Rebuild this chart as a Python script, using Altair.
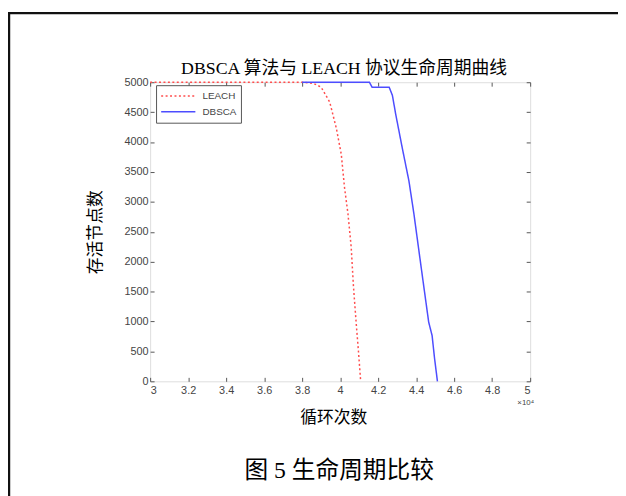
import altair as alt
import pandas as pd

# ---- data (x in units of 1e4 rounds) ----
leach_x = [3.00, 3.80, 3.86, 3.90, 3.945, 3.98, 4.006, 4.023, 4.041, 4.058, 4.070, 4.084, 4.098, 4.108]
leach_y = [5000, 5000, 4980, 4917, 4670, 4230, 3795, 3240, 2805, 2250, 1590, 990, 434, 0]
dbsca_x = [3.80, 4.154, 4.168, 4.258, 4.275, 4.293, 4.327, 4.362, 4.388, 4.414, 4.440, 4.466, 4.484, 4.497, 4.512]
dbsca_y = [5000, 5000, 4917, 4917, 4780, 4455, 3900, 3350, 2805, 2195, 1590, 990, 764, 380, 0]
series = ["LEACH", "DBSCA"]
x_ticks = [3.0, 3.2, 3.4, 3.6, 3.8, 4.0, 4.2, 4.4, 4.6, 4.8, 5.0]
y_ticks = [0, 500, 1000, 1500, 2000, 2500, 3000, 3500, 4000, 4500, 5000]
title_text = "DBSCA 算法与 LEACH 协议生命周期曲线"
x_title = "循环次数"
y_title = "存活节点数"
caption = "图 5  生命周期比较"
exp_label = "×10⁴"

rows = []
for i, (x, y) in enumerate(zip(leach_x, leach_y)):
    rows.append({"s": "LEACH", "x": x, "y": y, "o": i})
for i, (x, y) in enumerate(zip(dbsca_x, dbsca_y)):
    rows.append({"s": "DBSCA", "x": x, "y": y, "o": i})
df = pd.DataFrame(rows)

W, H = 385, 303
SANS = "Liberation Sans, Arial, sans-serif"
MIX = "Liberation Serif, Noto Sans CJK SC, serif"
CJK = "Noto Sans CJK SC, sans-serif"

xscale = alt.Scale(domain=[3, 5], nice=False, zero=False)
yscale = alt.Scale(domain=[0, 5000], nice=False)

lines = alt.Chart(df).mark_line(strokeWidth=1.5, clip=False).encode(
    x=alt.X("x:Q", scale=xscale,
            axis=alt.Axis(values=x_ticks, format="~g", grid=False, domain=False,
                          offset=-4, tickSize=4, tickColor="#555", labelColor="#444",
                          labelFont=SANS, labelFontSize=11, labelPadding=3,
                          title=x_title, titleFont=CJK, titleFontSize=17, titleX=W / 2 - 7,
                          titleFontWeight="normal", titleColor="#000", titlePadding=15)),
    y=alt.Y("y:Q", scale=yscale,
            axis=alt.Axis(values=y_ticks, format="d", grid=False, domain=False,
                          offset=-4, tickSize=4, tickColor="#555", labelColor="#444",
                          labelFont=SANS, labelFontSize=11, labelPadding=2,
                          title=y_title, titleFont=CJK, titleFontSize=17,
                          titleFontWeight="normal", titleColor="#000", titlePadding=20)),
    color=alt.Color("s:N", scale=alt.Scale(domain=series, range=["#ff4d4d", "#4d4dff"]),
                    legend=alt.Legend(title=None, orient="none", legendX=6, legendY=3,
                                      strokeColor="#555", fillColor="white", padding=4,
                                      symbolType="stroke", symbolSize=1200,
                                      symbolStrokeWidth=1.5, labelFont=SANS,
                                      labelFontSize=10, labelColor="#444", rowPadding=2,
                                      clipHeight=14, labelOffset=6)),
    strokeDash=alt.StrokeDash("s:N", scale=alt.Scale(domain=series, range=[[2, 2.5], [1, 0]]),
                              legend=alt.Legend(title=None)),
    order="o:Q",
)

box_ticks = alt.Chart(df).mark_point(opacity=0).encode(
    x=alt.X("x:Q", scale=xscale,
            axis=alt.Axis(orient="top", values=x_ticks, labels=False, grid=False, domain=False,
                          offset=-4, tickSize=4, tickColor="#555", title=None)),
    y=alt.Y("y:Q", scale=yscale,
            axis=alt.Axis(orient="right", values=y_ticks, labels=False, grid=False, domain=False,
                          offset=-4, tickSize=4, tickColor="#555", title=None)),
)

title_mark = alt.Chart(pd.DataFrame({"t": [title_text]})).mark_text(
    align="center", baseline="alphabetic", font=MIX, fontSize=18, color="#000"
).encode(x=alt.value(W / 2 + 4), y=alt.value(-8), text="t:N")

exp_text = alt.Chart(pd.DataFrame({"t": [exp_label]})).mark_text(
    align="right", baseline="top", font=SANS, fontSize=8, color="#444"
).encode(x=alt.value(W + 4), y=alt.value(H + 18), text="t:N")

cap_text = alt.Chart(pd.DataFrame({"t": [caption]})).mark_text(
    align="center", baseline="middle", font=MIX, fontSize=24, color="#000"
).encode(x=alt.value(W / 2 - 1), y=alt.value(H + 91), text="t:N")

frame = alt.Chart(pd.DataFrame({"a": [0]})).mark_rect(
    fill=None, stroke="#111", strokeWidth=2.5, clip=False
).encode(x=alt.value(-143), x2=alt.value(700), y=alt.value(-70), y2=alt.value(700))

chart = alt.layer(frame, lines, box_ticks, title_mark, exp_text, cap_text).resolve_axis(
    x="independent", y="independent"
).properties(
    width=W, height=H,
    autosize=alt.AutoSizeParams(type="none"),
    padding={"left": 144, "top": 72, "right": 89, "bottom": 113},
).configure_view(stroke="#555", strokeWidth=1).configure(background="white")

chart.save("out.html", embed_options={"renderer": "svg", "actions": False})
